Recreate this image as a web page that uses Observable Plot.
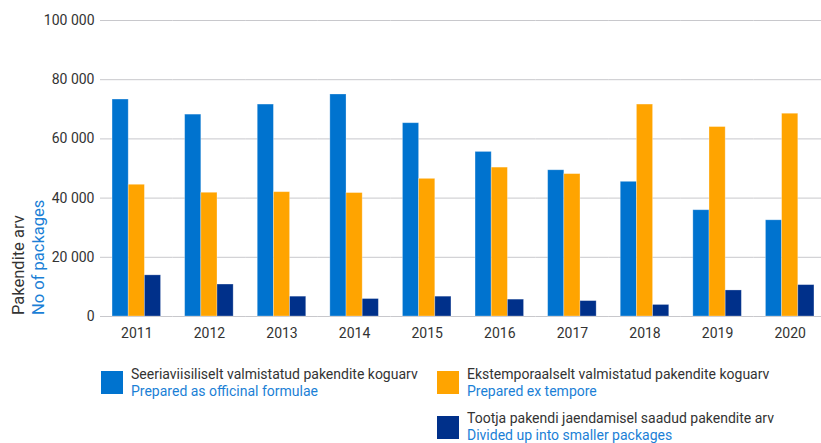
<!DOCTYPE html>
<html>
<head>
<meta charset="utf-8">
<script src="https://cdn.jsdelivr.net/npm/d3@7"></script>
<script src="https://cdn.jsdelivr.net/npm/@observablehq/plot@0.6"></script>
<style>
  html, body { margin: 0; padding: 0; background: #fff; }
  #wrap { width: 821px; font-family: Roboto, sans-serif; }
  #legend { position: relative; width: 821px; height: 98px; font-size: 14px; line-height: 17px; }
  .sw { position: absolute; width: 22px; height: 23px; }
  .lt { position: absolute; white-space: nowrap; }
  .l1 { color: #333; }
  .l2 { color: #1b7fd6; }
</style>
</head>
<body>
<div id="wrap"></div>
<script>
const years = ["2011","2012","2013","2014","2015","2016","2017","2018","2019","2020"];
const seriesKeys = ["official", "extempore", "divided"];
const seriesEt = ["Seeriaviisiliselt valmistatud pakendite koguarv", "Ekstemporaalselt valmistatud pakendite koguarv", "Tootja pakendi jaendamisel saadud pakendite arv"];
const seriesEn = ["Prepared as officinal formulae", "Prepared ex tempore", "Divided up into smaller packages"];
const seriesColors = ["#0073cf", "#ffa400", "#00308a"];
const official  = [73300, 68200, 71600, 75000, 65300, 55600, 49400, 45500, 35900, 32500];
const extempore = [44500, 41800, 42000, 41700, 46500, 50300, 48100, 71600, 64000, 68500];
const divided   = [13900, 10800, 6700, 5900, 6700, 5700, 5200, 3900, 8800, 10600];
const yTicks = [0, 20000, 40000, 60000, 80000, 100000];
const yTitle = ["Pakendite arv", "No of packages"];

const valuesBySeries = [official, extempore, divided];
const data = [];
years.forEach((y, i) => seriesKeys.forEach((s, j) => data.push({year: y, series: s, value: valuesBySeries[j][i]})));

const fmt = d => d3.format(",")(d).replace(/,/g, " ");

const chart = Plot.plot({
  width: 821,
  height: 345,
  marginLeft: 100,
  marginRight: 0,
  marginTop: 20,
  marginBottom: 29,
  style: {fontFamily: "Roboto, sans-serif", fontSize: "14px", color: "#333", background: "white"},
  fx: {domain: years, range: [100, 826], padding: 0, round: false, tickSize: 0, tickPadding: 12, label: null},
  x: {domain: seriesKeys, paddingInner: 0, paddingOuter: 0.745, round: false, axis: null},
  y: {domain: [0, 100000], ticks: yTicks, tickFormat: fmt, tickSize: 0, tickPadding: 6, label: null},
  color: {domain: seriesKeys, range: seriesColors},
  marks: [
    Plot.ruleY(yTicks, {stroke: "#c8c8cc", strokeWidth: 1}),
    Plot.barY(data, {fx: "year", x: "series", y: "value", fill: "series", stroke: "#ffffff", strokeOpacity: 0.35, strokeWidth: 0.8})
  ]
});

const svg = d3.select(chart);
svg.append("text")
  .attr("transform", "translate(24,315) rotate(-90)")
  .attr("font-size", "16.5px").attr("fill", "#333").attr("text-anchor", "start")
  .text(yTitle[0]);
svg.append("text")
  .attr("transform", "translate(43.5,315) rotate(-90)")
  .attr("font-size", "16.5px").attr("fill", "#1b7fd6").attr("text-anchor", "start")
  .text(yTitle[1]);

const wrap = document.getElementById("wrap");
wrap.appendChild(chart);

const legend = document.createElement("div");
legend.id = "legend";
const pos = [
  {sx: 101, sy: 26, tx: 131, ty: 20.5},
  {sx: 437, sy: 26, tx: 467, ty: 20.5},
  {sx: 437, sy: 71, tx: 467, ty: 65}
];
seriesKeys.forEach((k, i) => {
  const sw = document.createElement("div");
  sw.className = "sw";
  sw.style.left = pos[i].sx + "px";
  sw.style.top = pos[i].sy + "px";
  sw.style.background = seriesColors[i];
  legend.appendChild(sw);
  const t = document.createElement("div");
  t.className = "lt";
  t.style.left = pos[i].tx + "px";
  t.style.top = pos[i].ty + "px";
  t.innerHTML = `<div class="l1"></div><div class="l2"></div>`;
  t.querySelector(".l1").textContent = seriesEt[i];
  t.querySelector(".l2").textContent = seriesEn[i];
  legend.appendChild(t);
});
wrap.appendChild(legend);
</script>
</body>
</html>
